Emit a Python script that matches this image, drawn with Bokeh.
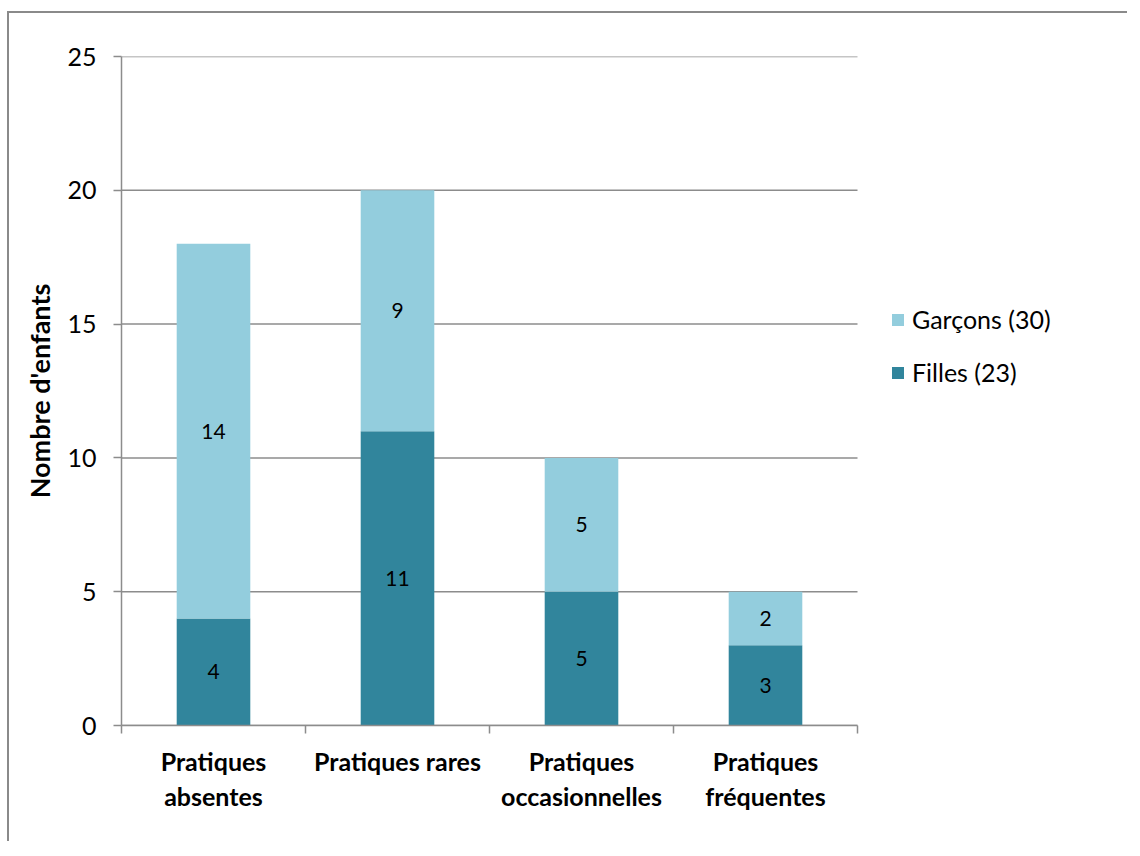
from bokeh.plotting import figure
from bokeh.models import (Range1d, LinearAxis, FixedTicker, Legend, LegendItem, ColumnDataSource)
from bokeh.core.properties import value
from bokeh.embed import file_html
from bokeh.resources import INLINE

# ---- data ----
categories = ["Pratiques\nabsentes", "Pratiques rares", "Pratiques\noccasionnelles", "Pratiques\nfréquentes"]
filles = [4, 11, 5, 3]
garcons = [14, 9, 5, 2]
series_names = ["Filles (23)", "Garçons (30)"]
y_ticks = [0, 5, 10, 15, 20, 25]

dark = "#31859C"
light = "#93CDDD"
grey = "#8C8C8C"
FONT = "Lato"

n = len(categories)
centers = [i + 0.5 for i in range(n)]
src = ColumnDataSource(dict(x=centers, filles=filles, garcons=garcons,
                            f_mid=[f / 2 for f in filles],
                            g_mid=[f + g / 2 for f, g in zip(filles, garcons)],
                            f_lbl=[str(v) for v in filles],
                            g_lbl=[str(v) for v in garcons]))

# frame is 1008 px wide; the categories use the first 736 px, the rest holds the legend
x_end = n * 1008 / 736

p = figure(x_range=Range1d(0, x_end), y_range=Range1d(0, 25),
           width=1120, height=830, output_backend="svg", toolbar_location=None,
           x_axis_location=None, y_axis_location="left",
           min_border_left=112, min_border_top=43, min_border_right=0, min_border_bottom=118)
p.outline_line_color = None
p.styles = {"border-top": "2px solid #8A8A8A", "border-left": "2px solid #8A8A8A",
            "margin-top": "11px", "margin-left": "7px"}

# horizontal grid lines over the category area only
p.segment(x0=0, x1=n, y0=y_ticks, y1=y_ticks, line_color=grey, line_width=1.5)

rs = p.vbar_stack(["filles", "garcons"], x="x", width=0.4, source=src,
                  color=[dark, light], line_color=None)

p.text(x="x", y="f_mid", text="f_lbl", source=src, text_align="center", text_baseline="middle",
       text_font=value(FONT), text_font_size="21px", text_color="black")
p.text(x="x", y="g_mid", text="g_lbl", source=src, text_align="center", text_baseline="middle",
       text_font=value(FONT), text_font_size="21px", text_color="black")

# y axis
ya = p.yaxis[0]
ya.ticker = FixedTicker(ticks=y_ticks)
ya.axis_line_color = grey
ya.axis_line_width = 1.5
ya.major_tick_line_color = grey
ya.major_tick_line_width = 1.5
ya.major_tick_out = 8
ya.major_tick_in = 0
ya.minor_tick_line_color = None
ya.major_label_text_font = FONT
ya.major_label_text_font_size = "25px"
ya.major_label_text_color = "black"
ya.major_label_standoff = 17
ya.axis_label = "Nombre d'enfants"
ya.axis_label_text_font = FONT
ya.axis_label_text_font_style = "bold"
ya.axis_label_text_font_size = "27px"
ya.axis_label_text_color = "black"
ya.axis_label_standoff = 8

p.xgrid.grid_line_color = None
p.ygrid.grid_line_color = None

# x axis: labels at category centres, tick marks at category boundaries
xa = LinearAxis(ticker=FixedTicker(ticks=centers, minor_ticks=list(range(n + 1))), bounds=(0, n))
xa.major_label_overrides = {c: lab for c, lab in zip(centers, categories)}
xa.axis_line_color = grey
xa.axis_line_width = 1.5
xa.major_tick_line_color = None
xa.major_tick_out = 8
xa.major_tick_in = 0
xa.minor_tick_line_color = grey
xa.minor_tick_line_width = 1.5
xa.minor_tick_out = 8
xa.minor_tick_in = 0
xa.major_label_text_font = FONT
xa.major_label_text_font_style = "bold"
xa.major_label_text_font_size = "25px"
xa.major_label_text_color = "black"
xa.major_label_text_line_height = 1.17
xa.major_label_standoff = 12
p.add_layout(xa, "below")

legend = Legend(items=[LegendItem(label=series_names[1], renderers=[rs[1]]),
                       LegendItem(label=series_names[0], renderers=[rs[0]])],
                location=(769, 338), orientation="vertical",
                glyph_width=15, glyph_height=15, label_height=25, spacing=23,
                padding=0, margin=0, label_standoff=7,
                label_text_font=FONT, label_text_font_size="25px", label_text_color="black",
                border_line_color=None, background_fill_alpha=0)
p.add_layout(legend, "center")

open("out.html", "w").write(file_html(p, INLINE))
